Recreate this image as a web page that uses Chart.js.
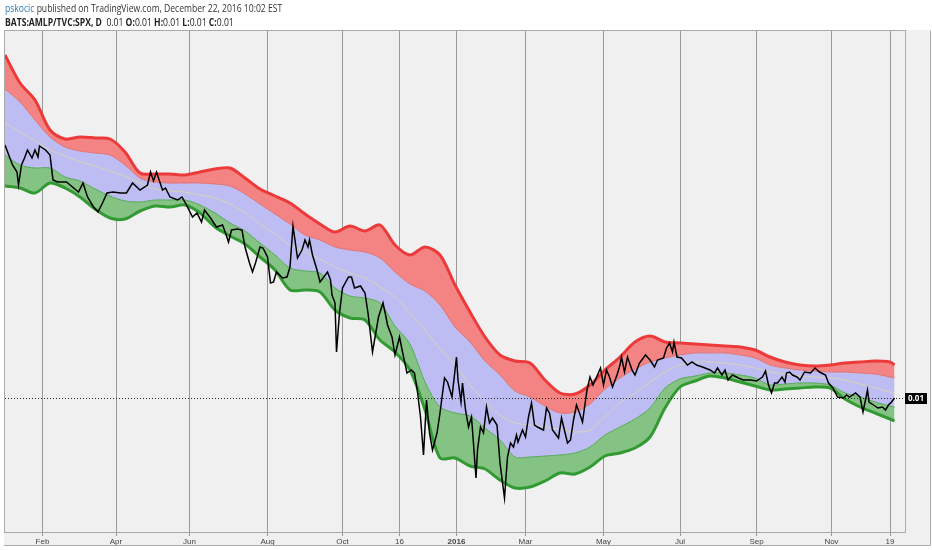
<!DOCTYPE html>
<html lang="en">
<head>
    <meta charset="UTF-8">
    <title>BATS:AMLP/TVC:SPX, D</title>
    <style>
        body {
            margin: 0;
            padding: 0;
            background: #fff;
            font-family: "Open Sans", Arial, sans-serif;
        }

        .wrap {
            position: relative;
            width: 932px;
            height: 550px;
        }

        .head {
            position: absolute;
            left: 5px;
            white-space: nowrap;
            font-size: 11px;
            color: #333;
            transform-origin: 0 0;
            transform: scaleX(0.78);
        }

        .line1 { top: 0px; }
        .line2 { top: 14px; color: #222; }
        .user { color: #2b7bbd; }

        canvas {
            position: absolute;
            left: 0;
            top: 0;
        }
    </style>
</head>
<body>

<div class="wrap">
    <canvas id="chart" width="932" height="550"></canvas>
    <div class="head line1"><span class="user">pskocic</span> published on TradingView.com, December 22, 2016 10:02 EST</div>
    <div class="head line2"><b>BATS:AMLP/TVC:SPX, D</b>&nbsp; 0.01 <b>O:</b>0.01 <b>H:</b>0.01 <b>L:</b>0.01 <b>C:</b>0.01</div>
</div>

<script src="https://cdn.jsdelivr.net/npm/chart.js"></script>
<script>
    // x = session number from the first bar on the chart
    const tickBar = [25, 74, 123, 175, 225, 263, 301, 347, 399, 450, 501, 551, 590];
    const tickLabel = ['Feb', 'Apr', 'Jun', 'Aug', 'Oct', '16', '2016', 'Mar', 'May', 'Jul', 'Sep', 'Nov', '19'];

    // AMLP / SPX daily close
    const priceBar = [0, 3, 5, 8, 9, 11, 13, 15, 18, 20, 22, 23, 27, 30, 32, 35, 41, 45, 49, 52,
        55, 59, 62, 65, 68, 72, 77, 81, 85, 90, 95, 97, 99, 101, 105, 107, 110, 115, 118, 121,
        125, 128, 131, 133, 137, 141, 145, 147, 149, 151, 155, 158, 160, 163, 165, 167, 170, 172, 175, 177,
        179, 181, 185, 188, 190, 192, 195, 198, 200, 202, 203, 205, 208, 210, 212, 215, 217, 218, 220, 221,
        223, 225, 229, 231, 233, 237, 240, 242, 245, 249, 252, 254, 255, 258, 260, 263, 265, 268, 271, 273,
        275, 277, 279, 281, 283, 285, 288, 290, 293, 295, 298, 301, 302, 304, 305, 307, 309, 311, 312, 314,
        315, 317, 319, 321, 323, 325, 328, 330, 333, 335, 337, 339, 341, 342, 345, 347, 349, 351, 353, 355,
        359, 361, 363, 365, 369, 371, 375, 377, 379, 381, 383, 385, 388, 390, 392, 395, 397, 399, 401, 403,
        405, 408, 410, 411, 413, 415, 418, 420, 423, 427, 430, 433, 435, 439, 441, 443, 445, 446, 448, 451,
        455, 458, 461, 465, 470, 473, 475, 478, 480, 482, 485, 489, 492, 497, 501, 505, 507, 509, 511, 513,
        515, 518, 520, 521, 523, 525, 528, 530, 533, 537, 540, 543, 547, 549, 552, 555, 559, 561, 563, 567,
        570, 572, 575, 576, 579, 582, 585, 587, 589, 591, 593];
    const price = [0.01110, 0.01086, 0.01070, 0.01056, 0.01030, 0.01070, 0.01084, 0.01100, 0.01084, 0.01100,
        0.01086, 0.01108, 0.01100, 0.01090, 0.01040, 0.01036, 0.01036, 0.01026, 0.01016, 0.01034,
        0.01006, 0.00986, 0.00976, 0.00994, 0.01014, 0.01016, 0.01014, 0.01014, 0.01034, 0.01020,
        0.01030, 0.01056, 0.01038, 0.01056, 0.01020, 0.01024, 0.01006, 0.01000, 0.01006, 0.00990,
        0.00966, 0.00974, 0.00956, 0.00980, 0.00964, 0.00946, 0.00950, 0.00934, 0.00916, 0.00940,
        0.00942, 0.00940, 0.00906, 0.00874, 0.00856, 0.00874, 0.00906, 0.00904, 0.00886, 0.00834,
        0.00836, 0.00856, 0.00844, 0.00846, 0.00866, 0.00948, 0.00884, 0.00900, 0.00920, 0.00906,
        0.00920, 0.00890, 0.00860, 0.00836, 0.00844, 0.00856, 0.00840, 0.00810, 0.00794, 0.00696,
        0.00774, 0.00824, 0.00846, 0.00846, 0.00824, 0.00828, 0.00814, 0.00774, 0.00696, 0.00766,
        0.00794, 0.00766, 0.00750, 0.00726, 0.00690, 0.00726, 0.00696, 0.00654, 0.00660, 0.00654,
        0.00616, 0.00566, 0.00490, 0.00600, 0.00534, 0.00500, 0.00534, 0.00574, 0.00644, 0.00636,
        0.00606, 0.00686, 0.00640, 0.00596, 0.00634, 0.00580, 0.00546, 0.00566, 0.00526, 0.00444,
        0.00500, 0.00546, 0.00534, 0.00586, 0.00554, 0.00564, 0.00550, 0.00474, 0.00404, 0.00486,
        0.00514, 0.00506, 0.00530, 0.00516, 0.00540, 0.00526, 0.00566, 0.00594, 0.00550, 0.00546,
        0.00540, 0.00584, 0.00574, 0.00540, 0.00524, 0.00564, 0.00514, 0.00520, 0.00560, 0.00590,
        0.00574, 0.00556, 0.00620, 0.00646, 0.00630, 0.00650, 0.00664, 0.00630, 0.00660, 0.00646,
        0.00626, 0.00650, 0.00670, 0.00686, 0.00656, 0.00686, 0.00660, 0.00650, 0.00674, 0.00690,
        0.00680, 0.00666, 0.00680, 0.00684, 0.00704, 0.00714, 0.00696, 0.00716, 0.00686, 0.00684,
        0.00670, 0.00676, 0.00670, 0.00666, 0.00660, 0.00654, 0.00664, 0.00650, 0.00660, 0.00640,
        0.00650, 0.00644, 0.00640, 0.00640, 0.00638, 0.00646, 0.00658, 0.00630, 0.00614, 0.00634,
        0.00634, 0.00646, 0.00636, 0.00654, 0.00656, 0.00650, 0.00646, 0.00640, 0.00656, 0.00654,
        0.00664, 0.00656, 0.00650, 0.00634, 0.00624, 0.00606, 0.00604, 0.00610, 0.00606, 0.00614,
        0.00606, 0.00576, 0.00620, 0.00596, 0.00590, 0.00584, 0.00586, 0.00580, 0.00590, 0.00596,
        0.00604];

    // envelope bands, sampled every 10 sessions
    const bandBar = [0, 10, 20, 30, 40, 50, 60, 70, 80, 90, 100, 110, 120, 130, 140, 150, 160, 170, 180, 190,
        200, 210, 220, 230, 240, 250, 260, 270, 280, 290, 300, 310, 320, 330, 340, 350, 360, 370, 380, 390,
        400, 410, 420, 430, 440, 450, 460, 470, 480, 490, 500, 510, 520, 530, 540, 550, 560, 570, 580, 590, 593];
    const upper = [0.01290, 0.01234, 0.01200, 0.01140, 0.01122, 0.01126, 0.01124, 0.01122, 0.01096, 0.01054,
        0.01052, 0.01052, 0.01050, 0.01056, 0.01062, 0.01064, 0.01044, 0.01022, 0.01008, 0.00994,
        0.00972, 0.00952, 0.00936, 0.00948, 0.00938, 0.00950, 0.00910, 0.00890, 0.00906, 0.00890,
        0.00830, 0.00776, 0.00726, 0.00690, 0.00678, 0.00674, 0.00640, 0.00614, 0.00612, 0.00630,
        0.00660, 0.00686, 0.00716, 0.00728, 0.00716, 0.00714, 0.00712, 0.00710, 0.00708, 0.00706,
        0.00700, 0.00686, 0.00676, 0.00670, 0.00668, 0.00670, 0.00674, 0.00676, 0.00678, 0.00676, 0.00670];
    const upperInner = [0.01222, 0.01196, 0.01160, 0.01126, 0.01106, 0.01098, 0.01094, 0.01090, 0.01070, 0.01044,
        0.01036, 0.01034, 0.01034, 0.01034, 0.01032, 0.01028, 0.01012, 0.00992, 0.00972, 0.00952,
        0.00930, 0.00920, 0.00906, 0.00900, 0.00896, 0.00884, 0.00856, 0.00832, 0.00818, 0.00790,
        0.00746, 0.00716, 0.00678, 0.00650, 0.00618, 0.00606, 0.00588, 0.00574, 0.00576, 0.00592,
        0.00622, 0.00644, 0.00662, 0.00676, 0.00684, 0.00690, 0.00694, 0.00694, 0.00694, 0.00690,
        0.00684, 0.00670, 0.00664, 0.00660, 0.00658, 0.00656, 0.00656, 0.00654, 0.00652, 0.00646, 0.00644];
    const middle = [0.01154, 0.01136, 0.01118, 0.01100, 0.01088, 0.01076, 0.01068, 0.01058, 0.01048, 0.01034,
        0.01022, 0.01018, 0.01016, 0.01010, 0.01004, 0.00992, 0.00974, 0.00952, 0.00932, 0.00910,
        0.00896, 0.00882, 0.00866, 0.00854, 0.00844, 0.00826, 0.00806, 0.00774, 0.00740, 0.00702,
        0.00670, 0.00630, 0.00598, 0.00570, 0.00554, 0.00550, 0.00546, 0.00542, 0.00536, 0.00540,
        0.00566, 0.00594, 0.00614, 0.00636, 0.00656, 0.00670, 0.00676, 0.00676, 0.00674, 0.00670,
        0.00664, 0.00656, 0.00652, 0.00648, 0.00646, 0.00644, 0.00640, 0.00632, 0.00624, 0.00616, 0.00614];
    const lowerInner = [0.01090, 0.01070, 0.01064, 0.01064, 0.01046, 0.01038, 0.01022, 0.01008, 0.00998, 0.00996,
        0.01000, 0.01000, 0.01000, 0.00990, 0.00974, 0.00954, 0.00938, 0.00914, 0.00890, 0.00864,
        0.00858, 0.00854, 0.00824, 0.00808, 0.00804, 0.00794, 0.00748, 0.00712, 0.00636, 0.00586,
        0.00574, 0.00568, 0.00544, 0.00520, 0.00486, 0.00486, 0.00488, 0.00490, 0.00494, 0.00506,
        0.00530, 0.00546, 0.00562, 0.00584, 0.00624, 0.00642, 0.00648, 0.00654, 0.00654, 0.00650,
        0.00644, 0.00630, 0.00632, 0.00634, 0.00634, 0.00630, 0.00614, 0.00606, 0.00596, 0.00588, 0.00586];
    const lower = [0.01028, 0.01024, 0.01014, 0.01034, 0.01024, 0.01006, 0.00982, 0.00964, 0.00962, 0.00978,
        0.00988, 0.00986, 0.00990, 0.00974, 0.00946, 0.00928, 0.00912, 0.00886, 0.00860, 0.00820,
        0.00820, 0.00816, 0.00780, 0.00764, 0.00760, 0.00720, 0.00696, 0.00660, 0.00580, 0.00484,
        0.00484, 0.00468, 0.00462, 0.00440, 0.00424, 0.00426, 0.00438, 0.00454, 0.00452, 0.00466,
        0.00488, 0.00494, 0.00504, 0.00526, 0.00584, 0.00626, 0.00638, 0.00648, 0.00644, 0.00636,
        0.00628, 0.00620, 0.00622, 0.00624, 0.00626, 0.00624, 0.00602, 0.00586, 0.00574, 0.00562, 0.00558];

    const pts = (xs, ys) => xs.map((x, i) => ({ x: x, y: ys[i] }));
    const lastPrice = price[price.length - 1];

    // grey panel, frame, last-price line and price tag
    const panel = {
        id: 'panel',
        beforeDraw(chart) {
            const c = chart.ctx;
            const a = chart.chartArea;
            c.save();
            c.fillStyle = '#f0f0f0';
            c.fillRect(4, a.top, 926, 545 - a.top);
            c.restore();
        },
        afterDraw(chart) {
            const c = chart.ctx;
            const a = chart.chartArea;
            const y = Math.round(chart.scales.y.getPixelForValue(lastPrice)) + 0.5;
            c.save();
            c.strokeStyle = '#aaa';
            c.lineWidth = 1;
            c.strokeRect(a.left - 0.5, a.top + 0.5, a.right - a.left + 1, a.bottom - a.top);
            c.beginPath();
            c.moveTo(4, 545.5);
            c.lineTo(930.5, 545.5);
            c.lineTo(930.5, a.top + 0.5);
            c.stroke();

            c.strokeStyle = '#222';
            c.setLineDash([1, 2]);
            c.beginPath();
            c.moveTo(a.left, y);
            c.lineTo(a.right, y);
            c.stroke();
            c.setLineDash([]);

            c.fillStyle = '#000';
            c.fillRect(a.right, y - 5.5, 22, 11);
            c.fillStyle = '#fff';
            c.font = 'bold 8px "Open Sans", Arial, sans-serif';
            c.textAlign = 'center';
            c.textBaseline = 'middle';
            c.fillText(lastPrice.toFixed(2), a.right + 11, y);
            c.restore();
        }
    };

    const ctx = document.getElementById('chart').getContext('2d');
    new Chart(ctx, {
        type: 'line',
        data: {
            datasets: [
                {
                    label: 'AMLP/SPX',
                    data: pts(priceBar, price),
                    borderColor: '#000',
                    borderWidth: 1.5,
                    fill: false
                },
                {
                    label: 'Upper',
                    data: pts(bandBar, upper),
                    borderColor: '#ec3a3a',
                    borderWidth: 3,
                    backgroundColor: '#f48484',
                    fill: '+1',
                    tension: 0.3
                },
                {
                    label: 'Upper inner',
                    data: pts(bandBar, upperInner),
                    borderColor: '#e27272',
                    borderWidth: 1,
                    backgroundColor: '#bdbdf4',
                    fill: 4,
                    tension: 0.3
                },
                {
                    label: 'Middle',
                    data: pts(bandBar, middle),
                    borderColor: '#d9d3b4',
                    borderWidth: 1,
                    fill: false,
                    tension: 0.3
                },
                {
                    label: 'Lower inner',
                    data: pts(bandBar, lowerInner),
                    borderColor: '#55a855',
                    borderWidth: 1,
                    backgroundColor: '#85c385',
                    fill: '+1',
                    tension: 0.3
                },
                {
                    label: 'Lower',
                    data: pts(bandBar, lower),
                    borderColor: '#329a32',
                    borderWidth: 3,
                    fill: false,
                    tension: 0.3
                }
            ]
        },
        options: {
            responsive: false,
            animation: false,
            parsing: false,
            elements: { point: { radius: 0 } },
            layout: { padding: { left: 5, top: 30, right: 27, bottom: 2 } },
            plugins: {
                legend: { display: false },
                tooltip: { enabled: false },
                filler: { drawTime: 'beforeDatasetsDraw' }
            },
            scales: {
                x: {
                    type: 'linear',
                    min: 0,
                    max: 600,
                    afterBuildTicks(scale) {
                        scale.ticks = tickBar.map(v => ({ value: v }));
                    },
                    afterFit(scale) {
                        scale.height = 16;
                    },
                    grid: {
                        color: '#999',
                        lineWidth: 1,
                        tickLength: 4
                    },
                    border: { color: '#aaa' },
                    ticks: {
                        autoSkip: false,
                        maxRotation: 0,
                        padding: 1,
                        color: '#444',
                        font: ctx => ({
                            family: 'Arial, "Liberation Sans", sans-serif',
                            size: 8,
                            weight: ctx.tick && ctx.tick.label === '2016' ? 'bold' : 'normal'
                        }),
                        callback: (value, i) => tickLabel[i]
                    }
                },
                y: {
                    display: false,
                    min: 0.00336,
                    max: 0.0134
                }
            }
        },
        plugins: [panel]
    });
</script>
</body>
</html>
